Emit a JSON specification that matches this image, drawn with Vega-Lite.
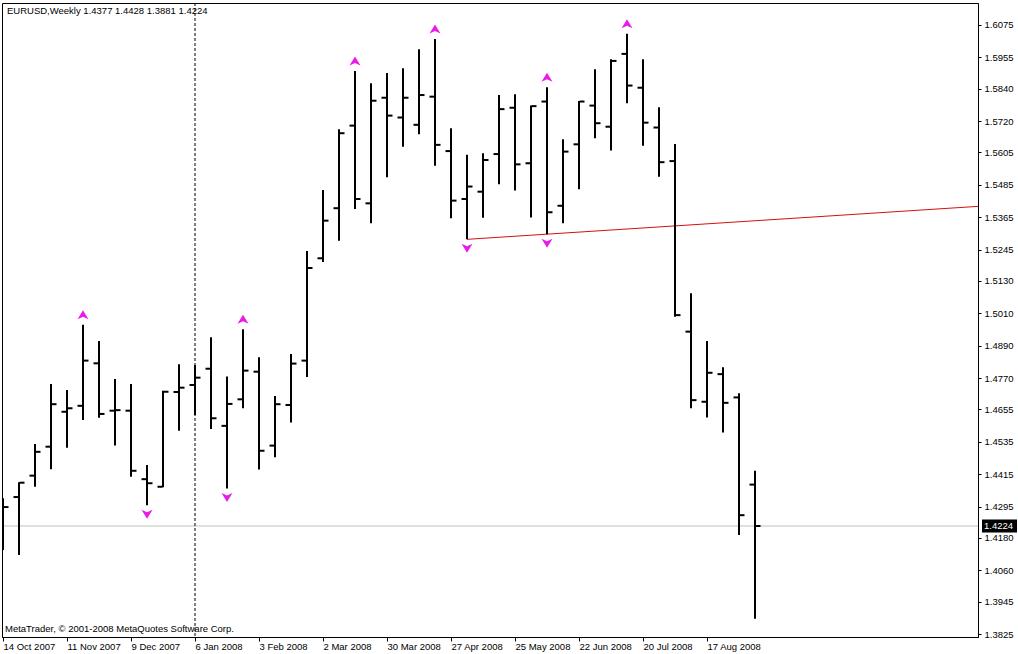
{
  "$schema": "https://vega.github.io/schema/vega-lite/v6.json",
  "width": 976,
  "height": 634,
  "autosize": "none",
  "padding": {"left": 2, "top": 3, "right": 40, "bottom": 17},
  "background": "white",
  "config": {
    "font": "Liberation Sans",
    "view": {"stroke": "black", "strokeWidth": 1},
    "axis": {"domainColor": "black", "tickColor": "black", "labelColor": "black", "labelFont": "Liberation Sans", "labelFontSize": 9.5, "grid": false, "title": null, "labelOverlap": false, "labelFlush": false, "labelBound": false}
  },
  "datasets": {
    "bars": [
      {"d": "2007-10-14", "o": 1.4172, "h": 1.4327, "l": 1.4135, "c": 1.4294, "fu": false, "fd": false},
      {"d": "2007-10-21", "o": 1.4331, "h": 1.4386, "l": 1.4117, "c": 1.4384, "fu": false, "fd": false},
      {"d": "2007-10-28", "o": 1.4410, "h": 1.4527, "l": 1.4369, "c": 1.4498, "fu": false, "fd": false},
      {"d": "2007-11-04", "o": 1.4517, "h": 1.4749, "l": 1.4434, "c": 1.4674, "fu": false, "fd": false},
      {"d": "2007-11-11", "o": 1.4646, "h": 1.4726, "l": 1.4513, "c": 1.4659, "fu": false, "fd": false},
      {"d": "2007-11-18", "o": 1.4668, "h": 1.4967, "l": 1.4616, "c": 1.4835, "fu": true, "fd": false},
      {"d": "2007-11-25", "o": 1.4825, "h": 1.4907, "l": 1.4624, "c": 1.4638, "fu": false, "fd": false},
      {"d": "2007-12-02", "o": 1.4650, "h": 1.4767, "l": 1.4521, "c": 1.4652, "fu": false, "fd": false},
      {"d": "2007-12-09", "o": 1.4650, "h": 1.4749, "l": 1.4406, "c": 1.4428, "fu": false, "fd": false},
      {"d": "2007-12-16", "o": 1.4397, "h": 1.4449, "l": 1.4301, "c": 1.4382, "fu": false, "fd": true},
      {"d": "2007-12-23", "o": 1.4369, "h": 1.4724, "l": 1.4367, "c": 1.4720, "fu": false, "fd": false},
      {"d": "2007-12-30", "o": 1.4719, "h": 1.4822, "l": 1.4576, "c": 1.4735, "fu": false, "fd": false},
      {"d": "2008-01-06", "o": 1.4745, "h": 1.4819, "l": 1.4634, "c": 1.4772, "fu": false, "fd": false},
      {"d": "2008-01-13", "o": 1.4805, "h": 1.4921, "l": 1.4582, "c": 1.4622, "fu": false, "fd": false},
      {"d": "2008-01-20", "o": 1.4594, "h": 1.4776, "l": 1.4363, "c": 1.4675, "fu": false, "fd": true},
      {"d": "2008-01-27", "o": 1.4692, "h": 1.4951, "l": 1.4659, "c": 1.4798, "fu": true, "fd": false},
      {"d": "2008-02-03", "o": 1.4794, "h": 1.4847, "l": 1.4433, "c": 1.4502, "fu": false, "fd": false},
      {"d": "2008-02-10", "o": 1.4521, "h": 1.4704, "l": 1.4478, "c": 1.4674, "fu": false, "fd": false},
      {"d": "2008-02-17", "o": 1.4671, "h": 1.4859, "l": 1.4606, "c": 1.4824, "fu": false, "fd": false},
      {"d": "2008-02-24", "o": 1.4835, "h": 1.5240, "l": 1.4774, "c": 1.5177, "fu": false, "fd": false},
      {"d": "2008-03-02", "o": 1.5213, "h": 1.5465, "l": 1.5199, "c": 1.5352, "fu": false, "fd": false},
      {"d": "2008-03-09", "o": 1.5398, "h": 1.5690, "l": 1.5278, "c": 1.5675, "fu": false, "fd": false},
      {"d": "2008-03-16", "o": 1.5703, "h": 1.5905, "l": 1.5395, "c": 1.5432, "fu": true, "fd": false},
      {"d": "2008-03-23", "o": 1.5416, "h": 1.5860, "l": 1.5342, "c": 1.5795, "fu": false, "fd": false},
      {"d": "2008-03-30", "o": 1.5806, "h": 1.5897, "l": 1.5512, "c": 1.5740, "fu": false, "fd": false},
      {"d": "2008-04-06", "o": 1.5733, "h": 1.5915, "l": 1.5625, "c": 1.5806, "fu": false, "fd": false},
      {"d": "2008-04-13", "o": 1.5706, "h": 1.5985, "l": 1.5671, "c": 1.5816, "fu": false, "fd": false},
      {"d": "2008-04-20", "o": 1.5810, "h": 1.6023, "l": 1.5555, "c": 1.5632, "fu": true, "fd": false},
      {"d": "2008-04-27", "o": 1.5609, "h": 1.5693, "l": 1.5361, "c": 1.5426, "fu": false, "fd": false},
      {"d": "2008-05-04", "o": 1.5432, "h": 1.5595, "l": 1.5283, "c": 1.5478, "fu": false, "fd": true},
      {"d": "2008-05-11", "o": 1.5459, "h": 1.5601, "l": 1.5363, "c": 1.5576, "fu": false, "fd": false},
      {"d": "2008-05-18", "o": 1.5598, "h": 1.5816, "l": 1.5486, "c": 1.5764, "fu": false, "fd": false},
      {"d": "2008-05-25", "o": 1.5769, "h": 1.5819, "l": 1.5463, "c": 1.5560, "fu": false, "fd": false},
      {"d": "2008-06-01", "o": 1.5564, "h": 1.5777, "l": 1.5364, "c": 1.5775, "fu": false, "fd": false},
      {"d": "2008-06-08", "o": 1.5792, "h": 1.5845, "l": 1.5302, "c": 1.5383, "fu": true, "fd": true},
      {"d": "2008-06-15", "o": 1.5407, "h": 1.5653, "l": 1.5342, "c": 1.5607, "fu": false, "fd": false},
      {"d": "2008-06-22", "o": 1.5634, "h": 1.5794, "l": 1.5468, "c": 1.5792, "fu": false, "fd": false},
      {"d": "2008-06-29", "o": 1.5777, "h": 1.5911, "l": 1.5656, "c": 1.5712, "fu": false, "fd": false},
      {"d": "2008-07-06", "o": 1.5699, "h": 1.5948, "l": 1.5611, "c": 1.5942, "fu": false, "fd": false},
      {"d": "2008-07-13", "o": 1.5968, "h": 1.6042, "l": 1.5786, "c": 1.5851, "fu": true, "fd": false},
      {"d": "2008-07-20", "o": 1.5843, "h": 1.5948, "l": 1.5629, "c": 1.5714, "fu": false, "fd": false},
      {"d": "2008-07-27", "o": 1.5696, "h": 1.5771, "l": 1.5514, "c": 1.5568, "fu": false, "fd": false},
      {"d": "2008-08-03", "o": 1.5572, "h": 1.5635, "l": 1.4997, "c": 1.5003, "fu": false, "fd": false},
      {"d": "2008-08-10", "o": 1.4942, "h": 1.5084, "l": 1.4659, "c": 1.4689, "fu": false, "fd": false},
      {"d": "2008-08-17", "o": 1.4683, "h": 1.4907, "l": 1.4625, "c": 1.4790, "fu": false, "fd": false},
      {"d": "2008-08-24", "o": 1.4785, "h": 1.4810, "l": 1.4569, "c": 1.4679, "fu": false, "fd": false},
      {"d": "2008-08-31", "o": 1.4699, "h": 1.4714, "l": 1.4191, "c": 1.4264, "fu": false, "fd": false},
      {"d": "2008-09-07", "o": 1.4377, "h": 1.4428, "l": 1.3881, "c": 1.4224, "fu": false, "fd": false}
    ],
    "trend": [
      {"d": "2008-05-04", "p": 1.5283},
      {"d": "2008-12-14", "p": 1.5405}
    ]
  },
  "data": {"name": "bars"},
  "layer": [
    {
      "data": {"values": [{}]},
      "mark": {"type": "rule", "color": "#c0c0c0", "strokeWidth": 1},
      "encoding": {"y": {"datum": 1.4224, "type": "quantitative"}}
    },
    {
      "data": {"values": [{}]},
      "mark": {"type": "rule", "color": "black", "strokeWidth": 1, "strokeDash": [3, 2]},
      "encoding": {"x": {"datum": {"year": 2008, "month": 1, "date": 6, "utc": true}, "type": "temporal"}}
    },
    {
      "data": {"name": "trend"},
      "mark": {"type": "line", "color": "#d41010", "strokeWidth": 1, "clip": true},
      "encoding": {
        "x": {"field": "d", "type": "temporal"},
        "y": {"field": "p", "type": "quantitative"}
      }
    },
    {
      "mark": {"type": "rule", "color": "black", "strokeWidth": 2},
      "encoding": {
        "x": {
          "field": "d", "type": "temporal",
          "scale": {"type": "utc", "nice": false, "domain": [
            {"year": 2007, "month": 10, "date": 13, "hours": 13, "minutes": 30, "utc": true},
            {"year": 2008, "month": 12, "date": 13, "hours": 13, "minutes": 30, "utc": true}
          ]},
          "axis": {
            "values": [
              {"year": 2007, "month": 10, "date": 14, "utc": true},
              {"year": 2007, "month": 11, "date": 11, "utc": true},
              {"year": 2007, "month": 12, "date": 9, "utc": true},
              {"year": 2008, "month": 1, "date": 6, "utc": true},
              {"year": 2008, "month": 2, "date": 3, "utc": true},
              {"year": 2008, "month": 3, "date": 2, "utc": true},
              {"year": 2008, "month": 3, "date": 30, "utc": true},
              {"year": 2008, "month": 4, "date": 27, "utc": true},
              {"year": 2008, "month": 5, "date": 25, "utc": true},
              {"year": 2008, "month": 6, "date": 22, "utc": true},
              {"year": 2008, "month": 7, "date": 20, "utc": true},
              {"year": 2008, "month": 8, "date": 17, "utc": true}
            ],
            "format": "%-d %b %Y",
            "labelAlign": "left",
            "labelOverlap": false,
            "tickSize": 4,
            "labelPadding": 0
          }
        },
        "y": {
          "field": "l", "type": "quantitative",
          "scale": {"domain": [1.3814, 1.6156], "nice": false, "zero": false},
          "axis": {
            "orient": "right",
            "values": [1.6075, 1.5955, 1.584, 1.572, 1.5605, 1.5485, 1.5365, 1.5245, 1.513, 1.501, 1.489, 1.477, 1.4655, 1.4535, 1.4415, 1.4295, 1.418, 1.406, 1.3945, 1.3825],
            "format": ".4f",
            "labelOverlap": false,
            "labelSeparation": 0,
            "tickCount": 20,
            "tickSize": 3,
            "labelPadding": 3
          }
        },
        "y2": {"field": "h"}
      }
    },
    {
      "mark": {"type": "tick", "orient": "horizontal", "size": 5, "thickness": 2, "xOffset": -3, "color": "black", "opacity": 1, "clip": true},
      "encoding": {
        "x": {"field": "d", "type": "temporal"},
        "y": {"field": "o", "type": "quantitative"}
      }
    },
    {
      "mark": {"type": "tick", "orient": "horizontal", "size": 5, "thickness": 2, "xOffset": 3, "color": "black", "opacity": 1},
      "encoding": {
        "x": {"field": "d", "type": "temporal"},
        "y": {"field": "c", "type": "quantitative"}
      }
    },
    {
      "transform": [{"filter": "datum.fu"}],
      "mark": {"type": "point", "shape": "M0,-1L1.1,0.8L0,0.3L-1.1,0.8Z", "size": 100, "filled": true, "color": "#e81be8", "opacity": 1, "yOffset": -9.5},
      "encoding": {
        "x": {"field": "d", "type": "temporal"},
        "y": {"field": "h", "type": "quantitative"}
      }
    },
    {
      "transform": [{"filter": "datum.fd"}],
      "mark": {"type": "point", "shape": "M0,1L1.1,-0.8L0,-0.3L-1.1,-0.8Z", "size": 100, "filled": true, "color": "#e81be8", "opacity": 1, "yOffset": 8.5},
      "encoding": {
        "x": {"field": "d", "type": "temporal"},
        "y": {"field": "l", "type": "quantitative"}
      }
    },
    {
      "data": {"values": [{}]},
      "mark": {"type": "point", "shape": "M4,-6.5H39V6.5H4Z", "size": 4, "filled": true, "color": "black", "opacity": 1, "strokeWidth": 0},
      "encoding": {
        "x": {"datum": {"year": 2008, "month": 12, "date": 13, "hours": 13, "minutes": 30, "utc": true}, "type": "temporal"},
        "y": {"datum": 1.4224, "type": "quantitative"}
      }
    },
    {
      "data": {"values": [{}]},
      "mark": {"type": "text", "text": "1.4224", "color": "white", "align": "left", "baseline": "middle", "dx": 6, "fontSize": 9.5, "font": "Liberation Sans"},
      "encoding": {
        "x": {"datum": {"year": 2008, "month": 12, "date": 13, "hours": 13, "minutes": 30, "utc": true}, "type": "temporal"},
        "y": {"datum": 1.4224, "type": "quantitative"}
      }
    },
    {
      "data": {"values": [{}]},
      "mark": {"type": "text", "text": "EURUSD,Weekly  1.4377 1.4428 1.3881 1.4224", "color": "black", "align": "left", "baseline": "top", "dx": 5, "dy": 3, "fontSize": 9.5, "font": "Liberation Sans"},
      "encoding": {
        "x": {"datum": {"year": 2007, "month": 10, "date": 13, "hours": 13, "minutes": 30, "utc": true}, "type": "temporal"},
        "y": {"datum": 1.6156, "type": "quantitative"}
      }
    },
    {
      "data": {"values": [{}]},
      "mark": {"type": "text", "text": "MetaTrader, © 2001-2008 MetaQuotes Software Corp.", "color": "black", "align": "left", "baseline": "bottom", "dx": 3, "dy": -3, "fontSize": 9.5, "font": "Liberation Sans"},
      "encoding": {
        "x": {"datum": {"year": 2007, "month": 10, "date": 13, "hours": 13, "minutes": 30, "utc": true}, "type": "temporal"},
        "y": {"datum": 1.3814, "type": "quantitative"}
      }
    }
  ]
}
